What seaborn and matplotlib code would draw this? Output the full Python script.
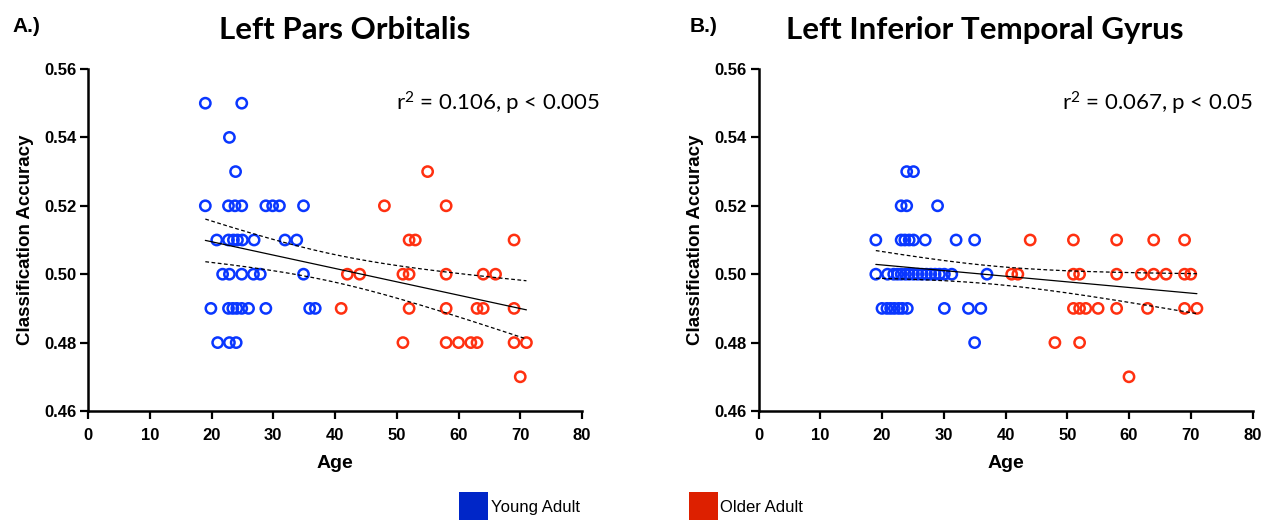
import numpy as np
import pandas as pd
import matplotlib
matplotlib.use("Agg")
import matplotlib.pyplot as plt
from matplotlib.patches import Patch
import seaborn as sns

# ---- data ----
# Left Pars Orbitalis
pars_young_age = [19.0, 24.9, 22.9, 23.9,
                  19.0, 22.75, 23.8, 24.9, 28.8, 29.9, 31.0, 34.9,
                  20.85, 22.75, 23.55, 24.2, 25.0, 26.9, 31.9, 33.8,
                  21.8, 22.9, 24.9, 26.8, 27.9, 34.9,
                  19.9, 22.75, 23.45, 24.1, 24.9, 26.0, 28.8, 35.9, 36.8,
                  21.0, 22.9, 24.0]
pars_young_acc = [0.55, 0.55, 0.54, 0.53,
                  0.52, 0.52, 0.52, 0.52, 0.52, 0.52, 0.52, 0.52,
                  0.51, 0.51, 0.51, 0.51, 0.51, 0.51, 0.51, 0.51,
                  0.50, 0.50, 0.50, 0.50, 0.50, 0.50,
                  0.49, 0.49, 0.49, 0.49, 0.49, 0.49, 0.49, 0.49, 0.49,
                  0.48, 0.48, 0.48]
pars_old_age = [55, 48, 58, 52, 53, 69,
                42, 44, 51, 52, 58, 64, 66,
                41, 52, 58, 63, 64, 69,
                51, 58, 60, 62, 63, 69, 71,
                70]
pars_old_acc = [0.53, 0.52, 0.52, 0.51, 0.51, 0.51,
                0.50, 0.50, 0.50, 0.50, 0.50, 0.50, 0.50,
                0.49, 0.49, 0.49, 0.49, 0.49, 0.49,
                0.48, 0.48, 0.48, 0.48, 0.48, 0.48, 0.48,
                0.47]

# Left Inferior Temporal Gyrus
itg_young_age = [24.0, 25.1,
                 23.1, 24.0, 29.0,
                 19.0, 23.1, 23.7, 24.4, 25.1, 27.0, 32.0, 35.0,
                 19.0, 20.9, 21.9, 22.5, 23.1, 23.8, 24.4, 25.1, 25.8, 26.5,
                 27.2, 27.9, 28.6, 29.3, 30.1, 31.3, 37.0,
                 20.0, 20.8, 21.4, 22.0, 22.7, 23.3, 24.1, 30.1, 34.0, 36.0,
                 35.0]
itg_young_acc = [0.53, 0.53,
                 0.52, 0.52, 0.52,
                 0.51, 0.51, 0.51, 0.51, 0.51, 0.51, 0.51, 0.51,
                 0.50, 0.50, 0.50, 0.50, 0.50, 0.50, 0.50, 0.50, 0.50, 0.50,
                 0.50, 0.50, 0.50, 0.50, 0.50, 0.50, 0.50,
                 0.49, 0.49, 0.49, 0.49, 0.49, 0.49, 0.49, 0.49, 0.49, 0.49,
                 0.48]
itg_old_age = [44, 51, 58, 64, 69,
               41, 42, 51, 52, 58, 62, 64, 66, 69, 70,
               51, 52, 53, 55, 58, 63, 69, 71,
               48, 52,
               60]
itg_old_acc = [0.51, 0.51, 0.51, 0.51, 0.51,
               0.50, 0.50, 0.50, 0.50, 0.50, 0.50, 0.50, 0.50, 0.50, 0.50,
               0.49, 0.49, 0.49, 0.49, 0.49, 0.49, 0.49, 0.49,
               0.48, 0.48,
               0.47]

groups = ["Young Adult", "Older Adult"]
titles = ["Left Pars Orbitalis", "Left Inferior Temporal Gyrus"]
stats = ["r$^2$ = 0.106, p < 0.005", "r$^2$ = 0.067, p < 0.05"]
letters = ["A.)", "B.)"]
x_ticks = list(range(0, 81, 10))
y_ticks = [0.46, 0.48, 0.50, 0.52, 0.54, 0.56]

PAL = {"Young Adult": "#0a37ff", "Older Adult": "#ff3010"}
LEG_COL = ["#0026c8", "#dd2000"]

sns.set_style("ticks")
plt.rcParams["font.family"] = ["Liberation Sans", "DejaVu Sans"]
plt.rcParams["mathtext.default"] = "regular"
plt.rcParams["text.color"] = "k"
plt.rcParams["axes.labelcolor"] = "k"


def make_df(ya, yc, oa, oc):
    d1 = pd.DataFrame({"age": ya, "acc": yc, "group": groups[0]})
    d2 = pd.DataFrame({"age": oa, "acc": oc, "group": groups[1]})
    return pd.concat([d1, d2], ignore_index=True)


df_pars = make_df(pars_young_age, pars_young_acc, pars_old_age, pars_old_acc)
df_itg = make_df(itg_young_age, itg_young_acc, itg_old_age, itg_old_acc)

W, H = 1266, 520
fig = plt.figure(figsize=(W / 100, H / 100), dpi=100)
ax_l = fig.add_axes([88 / W, 109 / H, 494 / W, 342 / H])
ax_r = fig.add_axes([758.5 / W, 109 / H, 494 / W, 342 / H])


def draw_panel(ax, df):
    sns.scatterplot(data=df, x="age", y="acc", hue="group", palette=PAL,
                    s=55, linewidth=1.8, legend=False, ax=ax, clip_on=False)
    coll = ax.collections[0]
    coll.set_edgecolors(coll.get_facecolors())
    coll.set_facecolors("none")

    # linear fit + 95% confidence band of the fit
    x = df["age"].to_numpy()
    y = df["acc"].to_numpy()
    slope, icpt = np.polyfit(x, y, 1)
    xs = np.linspace(x.min(), x.max(), 200)
    fit = icpt + slope * xs
    n = len(x)
    s = np.sqrt(((y - (icpt + slope * x)) ** 2).sum() / (n - 2))
    se = s * np.sqrt(1 / n + (xs - x.mean()) ** 2 / ((x - x.mean()) ** 2).sum())
    ax.plot(xs, fit, color="k", lw=0.9)
    ax.plot(xs, fit + 1.99 * se, color="k", lw=0.9, ls=(0, (3, 2)))
    ax.plot(xs, fit - 1.99 * se, color="k", lw=0.9, ls=(0, (3, 2)))

    ax.set_xlim(0, 80)
    ax.set_ylim(0.46, 0.56)
    ax.set_xticks(x_ticks, labels=[str(t) for t in x_ticks],
                  fontweight="bold", fontsize=12)
    ax.set_yticks(y_ticks, labels=[f"{t:.2f}" for t in y_ticks],
                  fontweight="bold", fontsize=12)
    ax.tick_params(axis="both", colors="k", length=5.8, width=1.6)
    ax.tick_params(axis="x", pad=6.5)
    ax.tick_params(axis="y", pad=2.5)
    sns.despine(ax=ax)
    for sp in ["left", "bottom"]:
        ax.spines[sp].set_linewidth(1.8)
        ax.spines[sp].set_color("k")
    ax.set_xlabel("Age", fontweight="bold", fontsize=14)
    ax.set_ylabel("Classification Accuracy", fontweight="bold", fontsize=13.5)
    ax.xaxis.set_label_coords(0.5, -0.13)
    ax.yaxis.set_label_coords(-0.11, 0.5)


draw_panel(ax_l, df_pars)
draw_panel(ax_r, df_itg)

# titles, panel letters, stats
for cx, t in zip([345, 985], titles):
    fig.text(cx / W, 1 - 30 / H, t, ha="center", va="center",
             fontsize=22.5, fontweight="bold", family=["Lato", "DejaVu Sans"])
for lx, l in zip([12, 690], letters):
    fig.text(lx / W, 1 - 27 / H, l, ha="left", va="center",
             fontsize=15, fontweight="bold")
for sx, st in zip([396, 1062], stats):
    fig.text(sx / W, 1 - 103 / H, st, ha="left", va="center",
             fontsize=16, family=["Lato", "DejaVu Sans"])

handles = [Patch(facecolor=c, edgecolor="none", label=g) for c, g in zip(LEG_COL, groups)]
fig.legend(handles=handles, loc="center left", bbox_to_anchor=(459 / W, 1 - 507 / H),
           ncol=2, frameon=False, fontsize=12, handlelength=1.75, handleheight=2.35,
           handletextpad=0.15, columnspacing=6.55, borderpad=0, borderaxespad=0)

fig.savefig("out.png", dpi=100)
